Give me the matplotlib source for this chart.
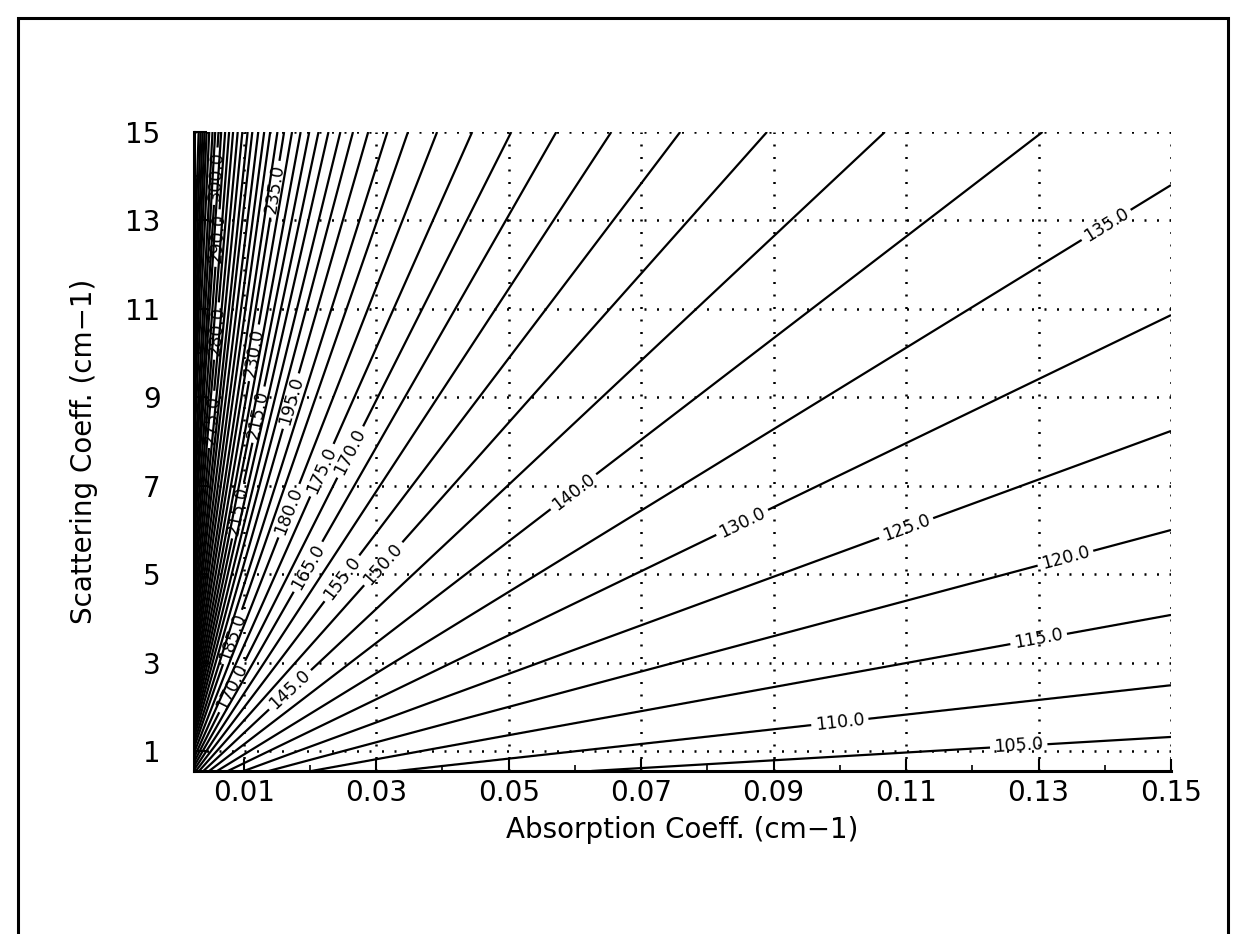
import numpy as np
import matplotlib
matplotlib.use("Agg")
import matplotlib.pyplot as plt
from matplotlib.patches import Rectangle
from matplotlib.ticker import MultipleLocator, FixedLocator

# Contour levels whose isolines leave the window through the right edge
# (absorption = 0.15), with the scattering value where they meet it.
side_levels = [105, 110, 115, 120, 125, 130, 135]
side_cross_s = [1.32, 2.49, 4.08, 6.00, 8.24, 10.86, 13.80]

# Contour levels whose isolines leave the window through the top edge
# (scattering = 15), with the absorption value where they meet it.
top_levels = [140, 145, 150, 155, 160, 165, 170, 175, 180, 185, 190, 195,
              200, 205, 210, 215, 220, 225, 230, 235, 240, 245, 250, 255,
              260, 265, 270, 275, 280, 285, 290, 295, 300, 305, 310, 315,
              320, 325, 330, 335, 340]
top_cross_a = [0.1306, 0.1068, 0.0890, 0.0759, 0.0655, 0.0572, 0.0504,
               0.0445, 0.0392, 0.0348, 0.0317, 0.0288, 0.0265, 0.0246,
               0.0228, 0.0213, 0.0199, 0.0186, 0.0173, 0.0161, 0.0151,
               0.0140, 0.0131, 0.0122, 0.0113, 0.0106, 0.0098, 0.0091,
               0.0084, 0.0078, 0.0072, 0.0066, 0.0062, 0.0057, 0.0053,
               0.0048, 0.0044, 0.0041, 0.0038, 0.0035, 0.0032]

x_ticks = [0.01, 0.03, 0.05, 0.07, 0.09, 0.11, 0.13, 0.15]
y_ticks = [1, 3, 5, 7, 9, 11, 13, 15]

A_MIN, A_MAX = 0.0025, 0.15
S_MIN, S_MAX = 0.55, 15.0

# where the contour labels sit (absorption, scattering)
label_spots = [
    (0.127, 1.14), (0.100, 1.66), (0.130, 3.55), (0.134, 5.40),
    (0.110, 6.05), (0.085, 6.25), (0.140, 12.95), (0.0596, 6.9),
    (0.0166, 2.45), (0.0306, 5.3), (0.0240, 5.0), (0.0205, 5.1),
    (0.0084, 2.45), (0.0256, 7.8), (0.0211, 7.4), (0.0166, 6.45),
    (0.0080, 3.6), (0.0175, 8.9), (0.0118, 10.0), (0.0090, 6.45),
    (0.0125, 8.6), (0.0150, 13.7), (0.0058, 10.5), (0.0052, 8.5),
    (0.0062, 12.6), (0.0058, 14.0),
]

plt.rcParams['font.family'] = ['DejaVu Sans']

# each isoline is a ray of constant scattering/absorption ratio
levels = np.array(side_levels + top_levels, dtype=float)
ratios = np.concatenate([np.array(side_cross_s) / A_MAX,
                         S_MAX / np.array(top_cross_a)])
logr = np.log(ratios)

a = np.linspace(A_MIN, A_MAX, 1400)
s = np.linspace(S_MIN, S_MAX, 900)
AA, SS = np.meshgrid(a, s)
q = np.log(SS / AA)
Z = np.interp(q, logr, levels)
lo = q < logr[0]
hi = q > logr[-1]
Z[lo] = levels[0] + (q[lo] - logr[0]) * (levels[1] - levels[0]) / (logr[1] - logr[0])
Z[hi] = levels[-1] + (q[hi] - logr[-1]) * (levels[-1] - levels[-2]) / (logr[-1] - logr[-2])

fig = plt.figure(figsize=(12.42, 9.34), dpi=100)
fig.patch.set_facecolor('white')
ax = fig.add_axes([194 / 1242, 163 / 934, (1171 - 194) / 1242, (771 - 132) / 934])

cs = ax.contour(AA, SS, Z, levels=levels, colors='black', linewidths=1.6)
ax.clabel(cs, fmt='%.1f', fontsize=12.5, inline=True, inline_spacing=4,
          manual=label_spots)

ax.set_xlim(A_MIN, A_MAX)
ax.set_ylim(S_MIN, S_MAX)

ax.xaxis.set_major_locator(FixedLocator(x_ticks))
ax.yaxis.set_major_locator(FixedLocator(y_ticks))
ax.xaxis.set_minor_locator(MultipleLocator(0.01))
ax.yaxis.set_minor_locator(MultipleLocator(1))
ax.set_xticklabels([f'{v:.2f}' for v in x_ticks])
ax.set_yticklabels([str(v) for v in y_ticks])

ax.tick_params(which='major', direction='in', length=9, width=1.5,
               labelsize=20, top=False, right=False)
ax.tick_params(which='minor', direction='in', length=4, width=1.2,
               top=False, right=False)
ax.tick_params(axis='x', which='major', pad=6)
ax.tick_params(axis='y', which='major', pad=24)

ax.grid(True, which='major', color='black', linestyle=(0, (0.8, 4.2)),
        linewidth=1.8)
for side in ('top', 'right'):
    ax.spines[side].set_visible(False)
for side in ('left', 'bottom'):
    ax.spines[side].set_linewidth(2.2)

ax.set_xlabel('Absorption Coeff. (cm\u22121)', fontsize=20, labelpad=6)
ax.set_ylabel('Scattering Coeff. (cm\u22121)', fontsize=20, labelpad=20)

# outer border around the page
fig.patches.append(Rectangle((18 / 1242, -0.05), (1228 - 18) / 1242,
                             1.05 - 18 / 934, transform=fig.transFigure,
                             fill=False, edgecolor='black', linewidth=2.2))

fig.savefig('out.png', dpi=100)
